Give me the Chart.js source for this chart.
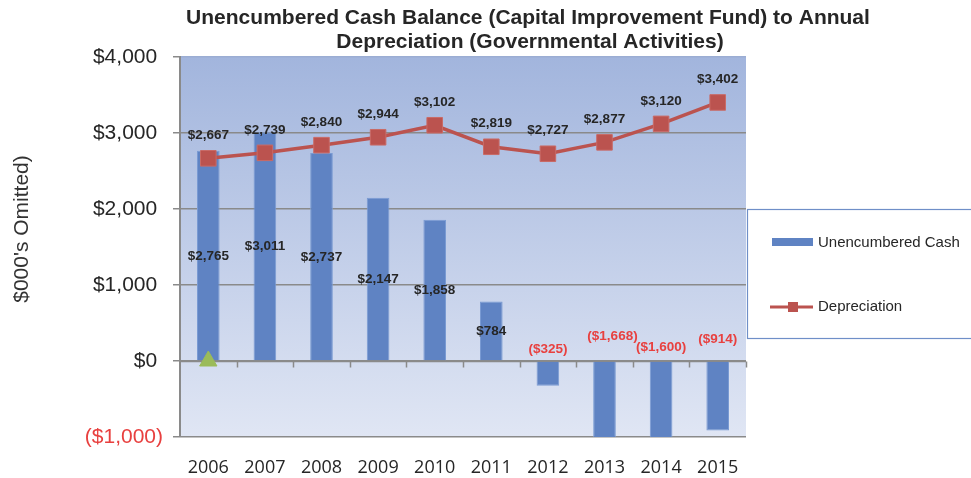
<!DOCTYPE html>
<html>
<head>
<meta charset="utf-8">
<script src="https://cdn.jsdelivr.net/npm/chart.js@4.4.1/dist/chart.umd.min.js"></script>
<style>
  html, body { margin: 0; padding: 0; background: #fff; }
  #wrap { width: 971px; height: 478px; position: relative; }
</style>
</head>
<body>
<div id="wrap"><canvas id="cashChart"></canvas></div>
<script>
// data
const years = ['2006', '2007', '2008', '2009', '2010', '2011', '2012', '2013', '2014', '2015'];
const cashValues = [2765, 3011, 2737, 2147, 1858, 784, -325, -1668, -1600, -914];
const depreciationValues = [2667, 2739, 2840, 2944, 3102, 2819, 2727, 2877, 3120, 3402];
const markerValues = [0, null, null, null, null, null, null, null, null, null];
const yTicks = [-1000, 0, 1000, 2000, 3000, 4000];
const titleLines = ['Unencumbered Cash Balance (Capital Improvement Fund) to Annual',
                    'Depreciation (Governmental Activities)'];
const yTitle = "$000's Omitted)";

// label nudges for the negative bars (px), as placed in the original
const negLabelNudge = [[0, -12], [0, -12], [0, -12], [0, -12], [0, -12], [0, -12],
                       [0, -12], [8, -25], [0, -14], [0, -22]];

const BAR = '#5f83c3';
const LINE = '#bb534f';
const RED = '#e8403f';
const TEXT = '#262626';

function money(v) {
  const s = '$' + Math.abs(v).toLocaleString('en-US');
  return v < 0 ? '(' + s + ')' : s;
}

const backdrop = {
  id: 'backdrop',
  beforeDraw(chart) {
    const { ctx, chartArea: a } = chart;
    const g = ctx.createLinearGradient(0, a.top, 0, a.bottom);
    g.addColorStop(0, '#a2b5dd');
    g.addColorStop(1, '#e0e6f4');
    ctx.save();
    ctx.fillStyle = g;
    ctx.fillRect(a.left, a.top, a.right - a.left, a.bottom - a.top);
    ctx.restore();
  },
  beforeDatasetsDraw(chart) {
    // category axis sits on the zero line
    const { ctx, chartArea: a, scales } = chart;
    const y0 = Math.round(scales.y.getPixelForValue(0)) + 0.5;
    const step = (a.right - a.left) / years.length;
    ctx.save();
    ctx.strokeStyle = '#8a8a8a';
    ctx.lineWidth = 1.5;
    ctx.beginPath();
    ctx.moveTo(a.left, y0);
    ctx.lineTo(a.right, y0);
    for (let i = 1; i <= years.length; i++) {
      const x = Math.round(a.left + i * step) + 0.5;
      ctx.moveTo(x, y0);
      ctx.lineTo(x, y0 + 6);
    }
    ctx.stroke();
    ctx.restore();
  }
};

const valueLabels = {
  id: 'valueLabels',
  afterDatasetsDraw(chart) {
    const { ctx, scales } = chart;
    const y0 = scales.y.getPixelForValue(0);
    ctx.save();
    ctx.font = 'bold 13.5px "Liberation Sans", Arial, sans-serif';
    ctx.textAlign = 'center';
    ctx.textBaseline = 'middle';
    chart.getDatasetMeta(0).data.forEach((bar, i) => {
      const v = cashValues[i];
      if (v >= 0) {
        ctx.fillStyle = TEXT;
        ctx.fillText(money(v), bar.x, (bar.y + y0) / 2);
      } else {
        ctx.fillStyle = RED;
        ctx.fillText(money(v), bar.x + negLabelNudge[i][0], y0 + negLabelNudge[i][1]);
      }
    });
    ctx.fillStyle = TEXT;
    chart.getDatasetMeta(1).data.forEach((pt, i) => {
      ctx.fillText(money(depreciationValues[i]), pt.x, pt.y - 23);
    });
    ctx.restore();
  }
};

const decorations = {
  id: 'decorations',
  afterDraw(chart) {
    const { ctx, chartArea: a } = chart;
    ctx.save();
    // title
    ctx.fillStyle = TEXT;
    ctx.font = 'bold 21px "Liberation Sans", Arial, sans-serif';
    ctx.textAlign = 'center';
    ctx.textBaseline = 'middle';
    ctx.fillText(titleLines[0], 528, 18);
    ctx.fillText(titleLines[1], 530, 42);

    // y axis title
    ctx.save();
    ctx.translate(22, 229);
    ctx.rotate(-Math.PI / 2);
    ctx.font = '21px "Liberation Sans", Arial, sans-serif';
    ctx.fillStyle = '#333';
    ctx.fillText(yTitle, 0, 0);
    ctx.restore();

    // legend box
    const lx = a.right + 1.5, ly = 209.5;
    ctx.fillStyle = '#fff';
    ctx.fillRect(lx, ly, 240, 129);
    ctx.strokeStyle = '#6f8fc8';
    ctx.lineWidth = 1.2;
    ctx.strokeRect(lx, ly, 240, 129);

    ctx.fillStyle = BAR;
    ctx.fillRect(772, 238, 41, 8);
    ctx.strokeStyle = LINE;
    ctx.lineWidth = 3;
    ctx.beginPath();
    ctx.moveTo(770, 307);
    ctx.lineTo(813, 307);
    ctx.stroke();
    ctx.fillStyle = LINE;
    ctx.fillRect(788, 302, 10, 10);

    ctx.fillStyle = TEXT;
    ctx.textAlign = 'left';
    ctx.font = '15px "Liberation Sans", Arial, sans-serif';
    ctx.fillText('Unencumbered Cash', 818, 243);
    ctx.fillText('Depreciation', 818, 307);
    ctx.restore();
  }
};

new Chart(document.getElementById('cashChart'), {
  data: {
    labels: years,
    datasets: [
      {
        type: 'bar',
        label: 'Unencumbered Cash',
        data: cashValues,
        backgroundColor: BAR,
        borderColor: '#7a9bd3',
        borderWidth: 1,
        categoryPercentage: 1,
        barPercentage: 0.4,
        order: 3
      },
      {
        type: 'line',
        label: 'Depreciation',
        data: depreciationValues,
        borderColor: LINE,
        borderWidth: 3.5,
        pointStyle: 'rect',
        pointRadius: 11,
        pointBackgroundColor: LINE,
        pointBorderColor: '#c96a66',
        pointBorderWidth: 1,
        tension: 0,
        order: 2
      },
      {
        type: 'line',
        label: 'marker',
        data: markerValues,
        showLine: false,
        pointStyle: 'triangle',
        pointRadius: 10,
        pointBackgroundColor: '#9bbb59',
        pointBorderColor: '#9bbb59',
        order: 1
      }
    ]
  },
  options: {
    responsive: true,
    maintainAspectRatio: false,
    animation: false,
    layout: { padding: { top: 57, right: 225, left: 0, bottom: 0 } },
    plugins: {
      legend: { display: false },
      tooltip: { enabled: false }
    },
    scales: {
      x: {
        grid: { display: false },
        border: { display: false },
        afterFit: s => { s.height = 41; },
        ticks: {
          color: TEXT,
          padding: 12,
          font: { family: '"Open Sans", sans-serif', size: 18 }
        }
      },
      y: {
        min: -1000,
        max: 4000,
        afterBuildTicks: s => { s.ticks = yTicks.map(v => ({ value: v })); },
        afterFit: s => { s.width = 180; },
        border: { display: true, color: '#8a8a8a', width: 2 },
        grid: {
          color: c => c.tick.value === 4000 ? '#9badd3' : '#8a8a8a',
          lineWidth: 1.5,
          tickLength: 7,
          tickColor: '#8a8a8a'
        },
        ticks: {
          padding: 10,
          color: c => c.tick.value < 0 ? RED : TEXT,
          font: { family: '"Liberation Sans", Arial, sans-serif', size: 21 },
          callback: v => v < 0 ? money(v) : money(v) + ' '
        }
      }
    }
  },
  plugins: [backdrop, valueLabels, decorations]
});
</script>
</body>
</html>
